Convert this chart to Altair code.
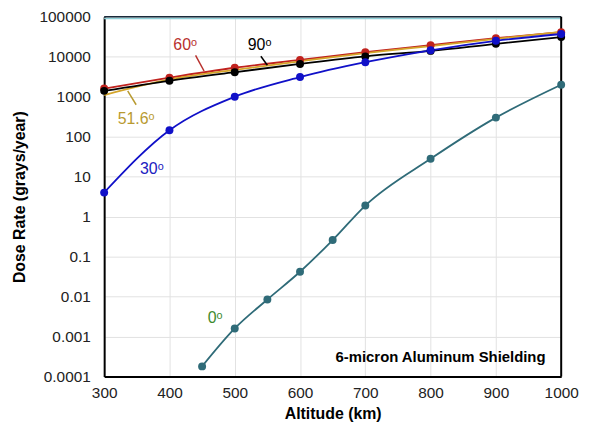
import altair as alt
import pandas as pd

alt_km = [300, 400, 500, 600, 700, 800, 900, 1000]
alt_eq = [450, 500, 550, 600, 650, 700, 800, 900, 1000]

dose_90 = [1400, 2500, 4100, 6600, 10200, 14000, 21000, 31000]
dose_60 = [1600, 3000, 5300, 8300, 13000, 19500, 29000, 41000]
dose_516 = [1100, 2700, 4700, 7700, 12300, 18500, 28000, 42000]
dose_30 = [4, 145, 1000, 3100, 7300, 14500, 25000, 37000]
dose_0 = [0.00018, 0.0016, 0.0085, 0.042, 0.26, 1.9, 28, 300, 2000]

series_names = ["60", "51.6", "90", "30", "0"]
series_colors = ["#C0221E", "#D4A52A", "#000000", "#1010C8", "#2F6B78"]
marker_colors = ["#C0221E", "#D4A52A", "#000000", "#1010C8", "#0A6E28"]

rows = []
for name, xs, ys in [("60", alt_km, dose_60), ("51.6", alt_km, dose_516),
                     ("90", alt_km, dose_90), ("30", alt_km, dose_30),
                     ("0", alt_eq, dose_0)]:
    for x, y in zip(xs, ys):
        rows.append({"series": name, "alt": x, "dose": y})
df = pd.DataFrame(rows)

label_text = ["60ᵒ", "90ᵒ", "51.6ᵒ", "30ᵒ", "0ᵒ"]
label_x = [424, 538, 349, 373, 470]
label_y = [19200, 19200, 284, 15.6, 0.00287]
label_color = ["#B8302C", "#000000", "#B89A30", "#2020C0", "#3E8A2E"]
labels = pd.DataFrame({"t": label_text, "x": label_x, "y": label_y, "c": label_color})

arrow_x1 = [440, 540, 336]
arrow_y1 = [10860, 10260, 1400]
arrow_x2 = [453, 550, 349]
arrow_y2 = [4400, 6140, 630]
arrow_c = ["#B8302C", "#000000", "#B89A30"]
arrows = pd.DataFrame({"x": arrow_x1, "y": arrow_y1, "x2": arrow_x2, "y2": arrow_y2, "c": arrow_c})

x_ticks = [300, 400, 500, 600, 700, 800, 900, 1000]
y_ticks = [0.0001, 0.001, 0.01, 0.1, 1, 10, 100, 1000, 10000, 100000]

xs = alt.Scale(domain=[300, 1000], nice=False, zero=False)
ys = alt.Scale(type="log", domain=[0.0001, 100000], nice=False)

X = alt.X("alt:Q", scale=xs, axis=alt.Axis(
    values=x_ticks, format="d", title="Altitude (km)", grid=True, ticks=False,
    labelFlush=False, labelPadding=9, titlePadding=5, domainColor="black", domainWidth=2))
Y = alt.Y("dose:Q", scale=ys, axis=alt.Axis(
    values=y_ticks, format="~g", title="Dose Rate (grays/year)", grid=True,
    ticks=False, labelFlush=False, labelPadding=14, titlePadding=12,
    domainColor="black", domainWidth=2))

color = alt.Color("series:N", scale=alt.Scale(domain=series_names, range=series_colors), legend=None)
mcolor = alt.Color("series:N", scale=alt.Scale(domain=series_names, range=marker_colors), legend=None)

lines = alt.Chart(df).mark_line(interpolate="monotone", strokeWidth=1.8).encode(
    x=X, y=Y, color=color, detail="series:N")
pts = alt.Chart(df[df["series"] != "51.6"]).mark_circle(size=64, opacity=1).encode(
    x=alt.X("alt:Q", scale=xs), y=alt.Y("dose:Q", scale=ys), color=mcolor)

txt = alt.Chart(labels).mark_text(fontSize=16, font="Liberation Sans").encode(
    x=alt.X("x:Q", scale=xs), y=alt.Y("y:Q", scale=ys),
    text="t:N", color=alt.Color("c:N", scale=None))

arr = alt.Chart(arrows).mark_rule(strokeWidth=1.5).encode(
    x=alt.X("x:Q", scale=xs), y=alt.Y("y:Q", scale=ys),
    x2="x2:Q", y2="y2:Q", color=alt.Color("c:N", scale=None))

note = alt.Chart(pd.DataFrame({"t": ["6-micron Aluminum Shielding"], "x": [976], "y": [0.00031]})).mark_text(
    fontSize=15, fontWeight="bold", align="right", font="Liberation Sans").encode(
    x=alt.X("x:Q", scale=xs), y=alt.Y("y:Q", scale=ys), text="t:N")

right = alt.Chart(pd.DataFrame({"x": [1000]})).mark_rule(color="black", strokeWidth=2).encode(
    x=alt.X("x:Q", scale=xs))
topline = alt.Chart(pd.DataFrame({"y": [100000]})).mark_rule(color="#1a2a3a", strokeWidth=1.5).encode(
    y=alt.Y("y:Q", scale=ys))
teal = alt.Chart(pd.DataFrame({"y": [100000]})).mark_rule(color="#8fd0d8", strokeWidth=1.5).encode(
    y=alt.value(1.8))

chart = alt.layer(teal, topline, right, lines, pts, arr, txt, note).properties(
    width=461, height=363,
    autosize=alt.AutoSizeParams(type="none"),
    padding={"left": 97, "top": 7, "right": 21, "bottom": 48},
).configure_view(stroke=None).configure_axis(
    labelFont="Liberation Sans", labelFontSize=15.5, labelColor="#222",
    titleFont="Liberation Sans", titleFontSize=16, titleFontWeight="bold", titleColor="black",
    gridColor="#e2e2e2", gridWidth=1,
)

chart.save("out.html", embed_options={"renderer": "svg", "actions": False})
